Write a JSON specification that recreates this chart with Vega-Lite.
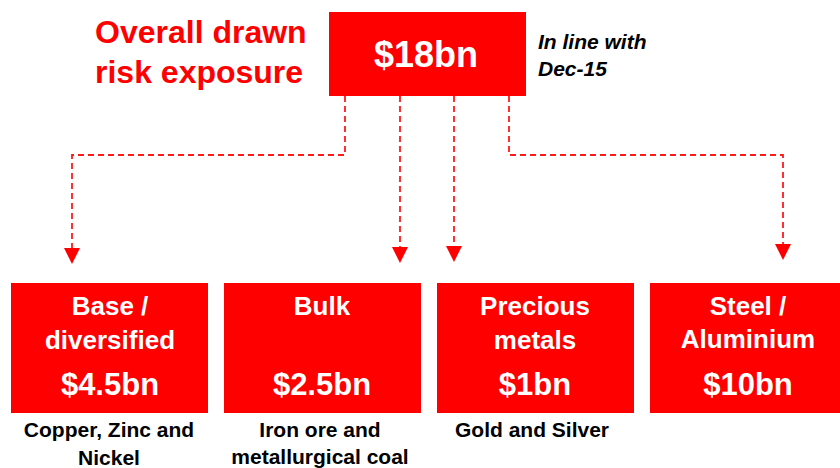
{
  "$schema": "https://vega.github.io/schema/vega-lite/v6.json",
  "width": 840,
  "height": 468,
  "autosize": {"type": "none"},
  "padding": 0,
  "background": "white",
  "config": {"view": {"stroke": null}, "font": "Liberation Sans"},
  "datasets": {
    "boxes": [
      {"box": "Overall", "x1": 329, "x2": 526, "y1": 12, "y2": 96},
      {"box": "Base / diversified", "x1": 11, "x2": 208, "y1": 283, "y2": 413},
      {"box": "Bulk", "x1": 224, "x2": 421, "y1": 283, "y2": 413},
      {"box": "Precious metals", "x1": 437, "x2": 634, "y1": 283, "y2": 413},
      {"box": "Steel / Aluminium", "x1": 650, "x2": 847, "y1": 283, "y2": 413}
    ],
    "links": [
      {"link": "Base / diversified", "step": 1, "x": 345, "y": 96},
      {"link": "Base / diversified", "step": 2, "x": 345, "y": 155},
      {"link": "Base / diversified", "step": 3, "x": 72, "y": 155},
      {"link": "Base / diversified", "step": 4, "x": 72, "y": 250},
      {"link": "Bulk", "step": 1, "x": 400, "y": 96},
      {"link": "Bulk", "step": 2, "x": 400, "y": 249},
      {"link": "Precious metals", "step": 1, "x": 454, "y": 96},
      {"link": "Precious metals", "step": 2, "x": 454, "y": 248},
      {"link": "Steel / Aluminium", "step": 1, "x": 509, "y": 96},
      {"link": "Steel / Aluminium", "step": 2, "x": 509, "y": 155},
      {"link": "Steel / Aluminium", "step": 3, "x": 783, "y": 155},
      {"link": "Steel / Aluminium", "step": 4, "x": 783, "y": 246}
    ],
    "arrows": [
      {"link": "Base / diversified", "x": 72, "y": 256},
      {"link": "Bulk", "x": 400, "y": 255},
      {"link": "Precious metals", "x": 454, "y": 254},
      {"link": "Steel / Aluminium", "x": 783, "y": 252}
    ],
    "texts": [
      {"role": "title", "text": "Overall drawn", "x": 95, "y": 43},
      {"role": "title", "text": "risk exposure", "x": 95, "y": 83},
      {"role": "total", "text": "$18bn", "x": 426, "y": 67},
      {"role": "note", "text": "In line with", "x": 538, "y": 49},
      {"role": "note", "text": "Dec-15", "x": 538, "y": 76},
      {"role": "label", "text": "Base /", "x": 110, "y": 315},
      {"role": "label", "text": "diversified", "x": 110, "y": 349},
      {"role": "label", "text": "Bulk", "x": 322, "y": 315},
      {"role": "label", "text": "Precious", "x": 535, "y": 315},
      {"role": "label", "text": "metals", "x": 535, "y": 349},
      {"role": "label", "text": "Steel /", "x": 748, "y": 315},
      {"role": "label", "text": "Aluminium", "x": 748, "y": 348},
      {"role": "amount", "text": "$4.5bn", "x": 110, "y": 395},
      {"role": "amount", "text": "$2.5bn", "x": 322, "y": 395},
      {"role": "amount", "text": "$1bn", "x": 535, "y": 395},
      {"role": "amount", "text": "$10bn", "x": 748, "y": 395},
      {"role": "caption", "text": "Copper, Zinc and", "x": 109, "y": 437},
      {"role": "caption", "text": "Nickel", "x": 109, "y": 465},
      {"role": "caption", "text": "Iron ore and", "x": 320, "y": 437},
      {"role": "caption", "text": "metallurgical coal", "x": 320, "y": 464},
      {"role": "caption", "text": "Gold and Silver", "x": 532, "y": 437}
    ]
  },
  "layer": [
    {
      "data": {"name": "boxes"},
      "mark": {"type": "rect", "color": "#FF0000"},
      "encoding": {
        "x": {"field": "x1", "type": "quantitative", "scale": {"domain": [0, 840], "nice": false, "zero": false}, "axis": null},
        "x2": {"field": "x2"},
        "y": {"field": "y1", "type": "quantitative", "scale": {"domain": [0, 468], "nice": false, "zero": false, "reverse": true}, "axis": null},
        "y2": {"field": "y2"}
      }
    },
    {
      "data": {"name": "links"},
      "mark": {"type": "line", "color": "#FF1A1A", "strokeWidth": 1.8, "strokeDash": [6, 4], "interpolate": "linear"},
      "encoding": {
        "x": {"field": "x", "type": "quantitative", "scale": {"domain": [0, 840], "nice": false, "zero": false}, "axis": null},
        "y": {"field": "y", "type": "quantitative", "scale": {"domain": [0, 468], "nice": false, "zero": false, "reverse": true}, "axis": null},
        "detail": {"field": "link"},
        "order": {"field": "step", "type": "quantitative"}
      }
    },
    {
      "data": {"name": "arrows"},
      "mark": {"type": "point", "shape": "M-1,-1L1,-1L0,1Z", "filled": true, "size": 256, "color": "#FF0000", "opacity": 1},
      "encoding": {
        "x": {"field": "x", "type": "quantitative", "scale": {"domain": [0, 840], "nice": false, "zero": false}, "axis": null},
        "y": {"field": "y", "type": "quantitative", "scale": {"domain": [0, 468], "nice": false, "zero": false, "reverse": true}, "axis": null}
      }
    },
    {
      "data": {"name": "texts"},
      "transform": [{"filter": "datum.role === 'title'"}],
      "mark": {"type": "text", "align": "left", "baseline": "alphabetic", "font": "Liberation Sans", "fontWeight": "bold", "fontSize": 32, "color": "#FF0000"},
      "encoding": {
        "x": {"field": "x", "type": "quantitative", "scale": {"domain": [0, 840], "nice": false, "zero": false}, "axis": null},
        "y": {"field": "y", "type": "quantitative", "scale": {"domain": [0, 468], "nice": false, "zero": false, "reverse": true}, "axis": null},
        "text": {"field": "text"}
      }
    },
    {
      "data": {"name": "texts"},
      "transform": [{"filter": "datum.role === 'total'"}],
      "mark": {"type": "text", "align": "center", "baseline": "alphabetic", "font": "Liberation Sans", "fontWeight": "bold", "fontSize": 36, "color": "#FFFFFF"},
      "encoding": {
        "x": {"field": "x", "type": "quantitative", "scale": {"domain": [0, 840], "nice": false, "zero": false}, "axis": null},
        "y": {"field": "y", "type": "quantitative", "scale": {"domain": [0, 468], "nice": false, "zero": false, "reverse": true}, "axis": null},
        "text": {"field": "text"}
      }
    },
    {
      "data": {"name": "texts"},
      "transform": [{"filter": "datum.role === 'note'"}],
      "mark": {"type": "text", "align": "left", "baseline": "alphabetic", "font": "Liberation Sans", "fontWeight": "bold", "fontStyle": "italic", "fontSize": 21, "color": "#000000"},
      "encoding": {
        "x": {"field": "x", "type": "quantitative", "scale": {"domain": [0, 840], "nice": false, "zero": false}, "axis": null},
        "y": {"field": "y", "type": "quantitative", "scale": {"domain": [0, 468], "nice": false, "zero": false, "reverse": true}, "axis": null},
        "text": {"field": "text"}
      }
    },
    {
      "data": {"name": "texts"},
      "transform": [{"filter": "datum.role === 'label'"}],
      "mark": {"type": "text", "align": "center", "baseline": "alphabetic", "font": "Liberation Sans", "fontWeight": "bold", "fontSize": 26, "color": "#FFFFFF"},
      "encoding": {
        "x": {"field": "x", "type": "quantitative", "scale": {"domain": [0, 840], "nice": false, "zero": false}, "axis": null},
        "y": {"field": "y", "type": "quantitative", "scale": {"domain": [0, 468], "nice": false, "zero": false, "reverse": true}, "axis": null},
        "text": {"field": "text"}
      }
    },
    {
      "data": {"name": "texts"},
      "transform": [{"filter": "datum.role === 'amount'"}],
      "mark": {"type": "text", "align": "center", "baseline": "alphabetic", "font": "Liberation Sans", "fontWeight": "bold", "fontSize": 31, "color": "#FFFFFF"},
      "encoding": {
        "x": {"field": "x", "type": "quantitative", "scale": {"domain": [0, 840], "nice": false, "zero": false}, "axis": null},
        "y": {"field": "y", "type": "quantitative", "scale": {"domain": [0, 468], "nice": false, "zero": false, "reverse": true}, "axis": null},
        "text": {"field": "text"}
      }
    },
    {
      "data": {"name": "texts"},
      "transform": [{"filter": "datum.role === 'caption'"}],
      "mark": {"type": "text", "align": "center", "baseline": "alphabetic", "font": "Liberation Sans", "fontWeight": "bold", "fontSize": 21, "color": "#000000"},
      "encoding": {
        "x": {"field": "x", "type": "quantitative", "scale": {"domain": [0, 840], "nice": false, "zero": false}, "axis": null},
        "y": {"field": "y", "type": "quantitative", "scale": {"domain": [0, 468], "nice": false, "zero": false, "reverse": true}, "axis": null},
        "text": {"field": "text"}
      }
    }
  ]
}
